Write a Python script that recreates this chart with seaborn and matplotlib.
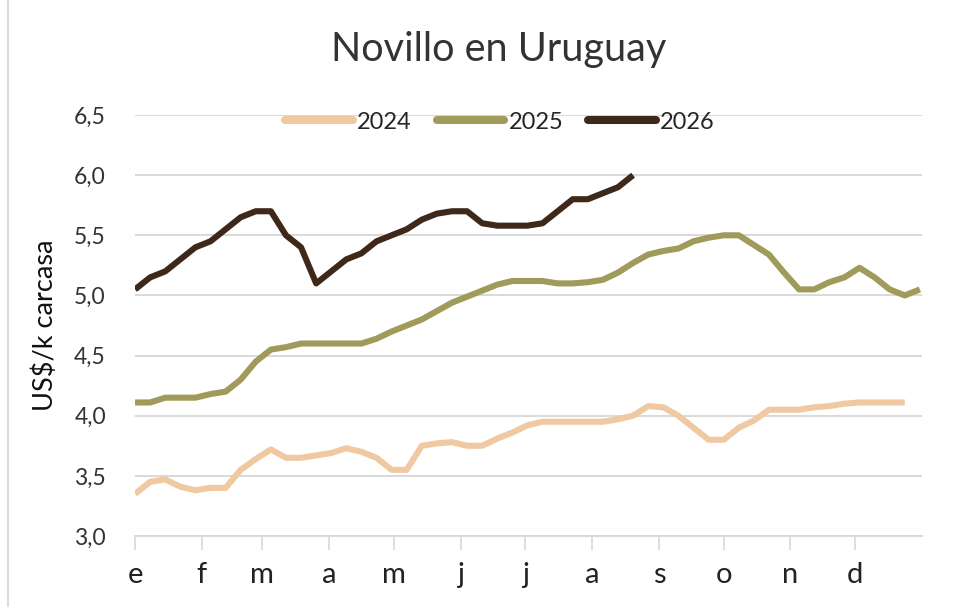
import numpy as np
import pandas as pd
import seaborn as sns
import matplotlib.pyplot as plt
from matplotlib.lines import Line2D

# weekly steer price, US$/kg carcass
precio_2024 = [3.35, 3.45, 3.47, 3.41, 3.38, 3.40, 3.40, 3.55, 3.64, 3.72,
               3.65, 3.65, 3.67, 3.69, 3.73, 3.70, 3.65, 3.55, 3.55, 3.75,
               3.77, 3.78, 3.75, 3.75, 3.81, 3.86, 3.92, 3.95, 3.95, 3.95,
               3.95, 3.95, 3.97, 4.00, 4.08, 4.07, 4.00, 3.90, 3.80, 3.80,
               3.90, 3.96, 4.05, 4.05, 4.05, 4.07, 4.08, 4.10, 4.11, 4.11,
               4.11, 4.11]
precio_2025 = [4.11, 4.11, 4.15, 4.15, 4.15, 4.18, 4.20, 4.30, 4.45, 4.55,
               4.57, 4.60, 4.60, 4.60, 4.60, 4.60, 4.64, 4.70, 4.75, 4.80,
               4.87, 4.94, 4.99, 5.04, 5.09, 5.12, 5.12, 5.12, 5.10, 5.10,
               5.11, 5.13, 5.19, 5.27, 5.34, 5.37, 5.39, 5.45, 5.48, 5.50,
               5.50, 5.42, 5.34, 5.19, 5.05, 5.05, 5.11, 5.15, 5.23, 5.15,
               5.05, 5.00, 5.05]
precio_2026 = [5.05, 5.15, 5.20, 5.30, 5.40, 5.45, 5.55, 5.65, 5.70, 5.70,
               5.50, 5.40, 5.10, 5.20, 5.30, 5.35, 5.45, 5.50, 5.55, 5.63,
               5.68, 5.70, 5.70, 5.60, 5.58, 5.58, 5.58, 5.60, 5.70, 5.80,
               5.80, 5.85, 5.90, 6.00]

meses = ["e", "f", "m", "a", "m", "j", "j", "a", "s", "o", "n", "d"]
inicio_mes = [0, 31, 59, 90, 120, 151, 181, 212, 243, 273, 304, 334]
y_ticks = [3.0, 3.5, 4.0, 4.5, 5.0, 5.5, 6.0, 6.5]

colores = {"2024": "#F0C9A2", "2025": "#A09B5B", "2026": "#3E2819"}

frames = []
for anio, vals in [("2024", precio_2024), ("2025", precio_2025), ("2026", precio_2026)]:
    frames.append(pd.DataFrame({"semana": np.arange(len(vals)), "precio": vals, "anio": anio}))
df = pd.concat(frames, ignore_index=True)

sns.set_style("white")
plt.rcParams["font.family"] = ["Lato", "DejaVu Sans"]

fig = plt.figure(figsize=(9.68, 6.07), dpi=100)
ax = fig.add_axes([0.1395, 0.117, 0.813, 0.6935])

sns.lineplot(data=df, x="semana", y="precio", hue="anio", palette=colores,
             linewidth=4.4, ax=ax, legend=False, solid_capstyle="butt")

ax.set_xlim(0, 365 / 7)
ax.set_ylim(3.0, 6.5)
ax.set_yticks(y_ticks)
ax.set_yticklabels([f"{v:.1f}".replace(".", ",") for v in y_ticks], fontsize=16.5, color="#333333")
ax.set_xticks([d / 7 for d in inicio_mes])
ax.set_xticklabels(meses, fontsize=21, color="#222222")
ax.tick_params(axis="x", length=10, width=1.2, color="#d9d9d9", pad=9, direction="out", bottom=True)
ax.tick_params(axis="y", length=0, pad=21)
ax.grid(axis="y", color="#d9d9d9", linewidth=1.4)
ax.set_axisbelow(True)
for s in ["top", "right", "left"]:
    ax.spines[s].set_visible(False)
ax.spines["bottom"].set_color("#d9d9d9")
ax.spines["bottom"].set_linewidth(1.4)

ax.set_xlabel("")
ax.set_ylabel("US$/k carcasa", fontsize=19.5, color="#111111", va="center")
ax.yaxis.set_label_coords(-0.114, 0.5)
fig.text(0.515, 1 - 50 / 607, "Novillo en Uruguay", fontsize=28.5, color="#333333",
         ha="center", va="center")

handles = [Line2D([], [], color=colores[k], linewidth=5.8, solid_capstyle="round") for k in colores]
ax.legend(handles, list(colores), loc="center", bbox_to_anchor=(0.464, 0.983), ncol=3,
          frameon=False, fontsize=17, handlelength=2.85, columnspacing=1.05, handletextpad=0.2,
          borderaxespad=0, borderpad=0)

fig.add_artist(Line2D([0.008, 0.008], [0, 1], color="#dddddd", linewidth=1.5))

fig.savefig("out.png", dpi=100)
